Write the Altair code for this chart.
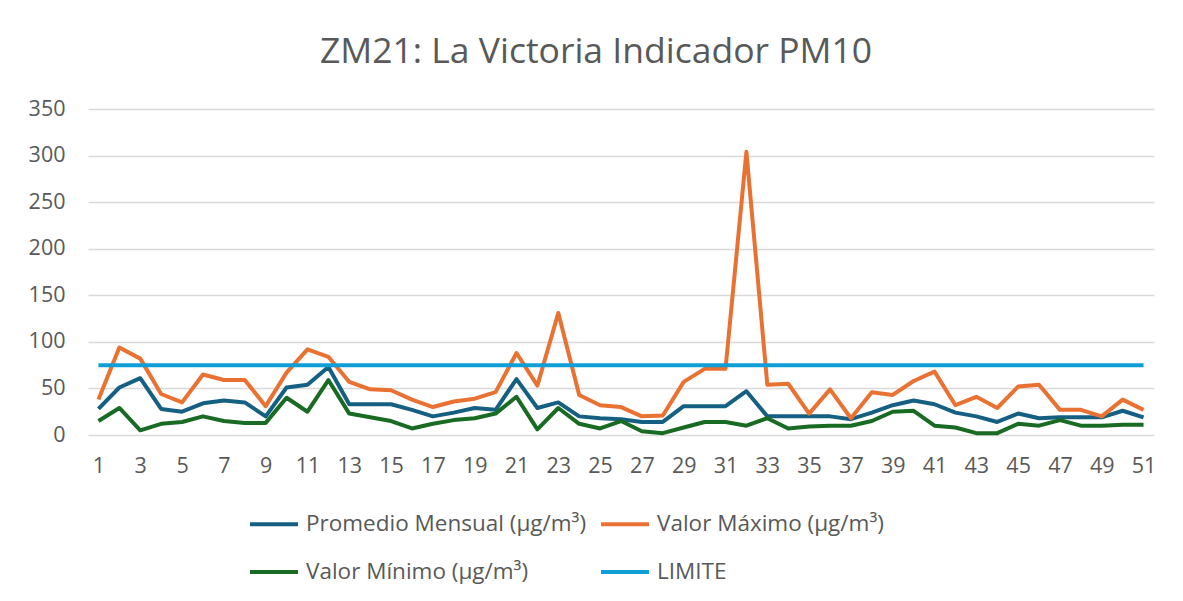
import altair as alt
import pandas as pd

dias = list(range(1, 52))

promedio = [28, 51, 61, 28, 25, 34, 37, 35, 20, 51,
            54, 73, 33, 33, 33, 27, 20, 24, 29, 27,
            60, 29, 35, 20, 18, 17, 14, 14, 31, 31,
            31, 47, 20, 20, 20, 20, 17, 24, 32, 37,
            33, 24, 20, 14, 23, 18, 19, 19, 19, 26, 19]

maximo = [38, 94, 82, 44, 35, 65, 59, 59, 31, 67,
          92, 84, 57, 49, 48, 38, 30, 36, 39, 46,
          88, 53, 131, 43, 32, 30, 20, 21, 57, 71,
          71, 304, 54, 55, 23, 49, 18, 46, 43, 58,
          68, 32, 41, 29, 52, 54, 27, 27, 20, 38, 27]

minimo = [15, 29, 5, 12, 14, 20, 15, 13, 13, 40,
          25, 59, 23, 19, 15, 7, 12, 16, 18, 23,
          41, 6, 29, 12, 7, 15, 4, 2, 8, 14,
          14, 10, 18, 7, 9, 10, 10, 15, 25, 26,
          10, 8, 2, 2, 12, 10, 16, 10, 10, 11, 11]

limite = [75] * 51

series = ["Promedio Mensual (µg/m³)", "Valor Máximo (µg/m³)",
          "Valor Mínimo (µg/m³)", "LIMITE"]
colores = ["#156082", "#E97132", "#196B24", "#0F9ED5"]

rows = []
for nombre, vals in zip(series, [promedio, maximo, minimo, limite]):
    for d, v in zip(dias, vals):
        rows.append({"dia": d, "valor": v, "serie": nombre, "orden": series.index(nombre)})
df = pd.DataFrame(rows)

FONT = "Open Sans"
GREY = "#595959"

chart = alt.Chart(df).mark_line(strokeWidth=4, strokeJoin="round").encode(
    x=alt.X("dia:Q",
            scale=alt.Scale(domain=[0.5, 51.5], nice=False, zero=False),
            axis=alt.Axis(values=list(range(1, 52, 2)), grid=False, domain=False,
                          ticks=False, title=None, labelFontSize=21.5, labelColor=GREY,
                          labelFont=FONT, labelPadding=20)),
    y=alt.Y("valor:Q",
            scale=alt.Scale(domain=[0, 350], nice=False),
            axis=alt.Axis(values=list(range(0, 351, 50)), grid=True, gridColor="#d9d9d9",
                          gridWidth=1.3, domain=False, ticks=False, title=None,
                          labelFontSize=21.5, labelColor=GREY, labelFont=FONT,
                          labelPadding=23)),
    color=alt.Color("serie:N",
                    scale=alt.Scale(domain=series, range=colores),
                    legend=alt.Legend(title=None, orient="none", legendX=160, legendY=389,
                                      direction="horizontal", columns=2,
                                      symbolType="stroke", symbolSize=2304,
                                      symbolStrokeWidth=4, labelFontSize=22.5,
                                      labelColor=GREY, labelFont=FONT, labelOffset=6,
                                      columnPadding=6, rowPadding=10, labelLimit=400)),
    order=alt.Order("orden:Q"),
).properties(
    width=1066,
    height=326,
    title=alt.TitleParams("ZM21: La Victoria Indicador PM10", fontSize=35.5, color=GREY,
                          font=FONT, fontWeight="normal", anchor="middle", offset=28,
                          dx=-25),
    autosize=alt.AutoSizeParams(type="none"),
    padding={"left": 80, "top": 101, "right": 15, "bottom": 150},
).configure_view(stroke=None)

chart.save("out.html", embed_options={"renderer": "svg", "actions": False})
